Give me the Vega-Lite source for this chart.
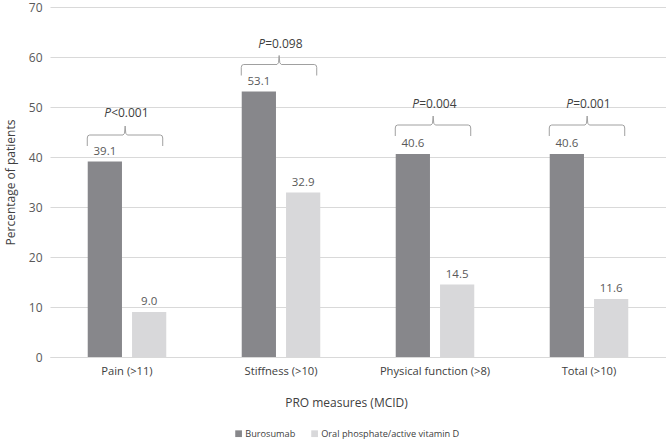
{
  "$schema": "https://vega.github.io/schema/vega-lite/v6.json",
  "width": 616,
  "height": 350,
  "autosize": {"type": "none"},
  "padding": {"left": 50, "top": 7, "right": 0, "bottom": 83},
  "config": {"font": "Open Sans", "view": {"stroke": null}},
  "datasets": {
    "bars": [
      {"measure": "Pain (>11)", "treatment": "Burosumab", "pct": 39.1},
      {"measure": "Pain (>11)", "treatment": "Oral phosphate/active vitamin D", "pct": 9.0},
      {"measure": "Stiffness (>10)", "treatment": "Burosumab", "pct": 53.1},
      {"measure": "Stiffness (>10)", "treatment": "Oral phosphate/active vitamin D", "pct": 32.9},
      {"measure": "Physical function (>8)", "treatment": "Burosumab", "pct": 40.6},
      {"measure": "Physical function (>8)", "treatment": "Oral phosphate/active vitamin D", "pct": 14.5},
      {"measure": "Total (>10)", "treatment": "Burosumab", "pct": 40.6},
      {"measure": "Total (>10)", "treatment": "Oral phosphate/active vitamin D", "pct": 11.6}
    ],
    "brackets": [
      {"measure": "Pain", "k": 1, "bx": 0.242, "by": 42.2},
      {"measure": "Pain", "k": 2, "bx": 0.242, "by": 43.8},
      {"measure": "Pain", "k": 3, "bx": 0.246, "by": 44.25},
      {"measure": "Pain", "k": 4, "bx": 0.258, "by": 44.4},
      {"measure": "Pain", "k": 5, "bx": 0.474, "by": 44.4},
      {"measure": "Pain", "k": 6, "bx": 0.484, "by": 44.75},
      {"measure": "Pain", "k": 7, "bx": 0.488, "by": 46.2},
      {"measure": "Pain", "k": 8, "bx": 0.492, "by": 44.75},
      {"measure": "Pain", "k": 9, "bx": 0.502, "by": 44.4},
      {"measure": "Pain", "k": 10, "bx": 0.716, "by": 44.4},
      {"measure": "Pain", "k": 11, "bx": 0.728, "by": 44.25},
      {"measure": "Pain", "k": 12, "bx": 0.732, "by": 43.8},
      {"measure": "Pain", "k": 13, "bx": 0.732, "by": 42.2},
      {"measure": "Stiffness", "k": 1, "bx": 1.242, "by": 56.3},
      {"measure": "Stiffness", "k": 2, "bx": 1.242, "by": 57.9},
      {"measure": "Stiffness", "k": 3, "bx": 1.246, "by": 58.35},
      {"measure": "Stiffness", "k": 4, "bx": 1.258, "by": 58.5},
      {"measure": "Stiffness", "k": 5, "bx": 1.474, "by": 58.5},
      {"measure": "Stiffness", "k": 6, "bx": 1.484, "by": 58.85},
      {"measure": "Stiffness", "k": 7, "bx": 1.488, "by": 60.3},
      {"measure": "Stiffness", "k": 8, "bx": 1.492, "by": 58.85},
      {"measure": "Stiffness", "k": 9, "bx": 1.502, "by": 58.5},
      {"measure": "Stiffness", "k": 10, "bx": 1.716, "by": 58.5},
      {"measure": "Stiffness", "k": 11, "bx": 1.728, "by": 58.35},
      {"measure": "Stiffness", "k": 12, "bx": 1.732, "by": 57.9},
      {"measure": "Stiffness", "k": 13, "bx": 1.732, "by": 56.3},
      {"measure": "Physical", "k": 1, "bx": 2.242, "by": 44.2},
      {"measure": "Physical", "k": 2, "bx": 2.242, "by": 45.8},
      {"measure": "Physical", "k": 3, "bx": 2.246, "by": 46.25},
      {"measure": "Physical", "k": 4, "bx": 2.258, "by": 46.4},
      {"measure": "Physical", "k": 5, "bx": 2.474, "by": 46.4},
      {"measure": "Physical", "k": 6, "bx": 2.484, "by": 46.75},
      {"measure": "Physical", "k": 7, "bx": 2.488, "by": 48.2},
      {"measure": "Physical", "k": 8, "bx": 2.492, "by": 46.75},
      {"measure": "Physical", "k": 9, "bx": 2.502, "by": 46.4},
      {"measure": "Physical", "k": 10, "bx": 2.716, "by": 46.4},
      {"measure": "Physical", "k": 11, "bx": 2.728, "by": 46.25},
      {"measure": "Physical", "k": 12, "bx": 2.732, "by": 45.8},
      {"measure": "Physical", "k": 13, "bx": 2.732, "by": 44.2},
      {"measure": "Total", "k": 1, "bx": 3.242, "by": 44.2},
      {"measure": "Total", "k": 2, "bx": 3.242, "by": 45.8},
      {"measure": "Total", "k": 3, "bx": 3.246, "by": 46.25},
      {"measure": "Total", "k": 4, "bx": 3.258, "by": 46.4},
      {"measure": "Total", "k": 5, "bx": 3.474, "by": 46.4},
      {"measure": "Total", "k": 6, "bx": 3.484, "by": 46.75},
      {"measure": "Total", "k": 7, "bx": 3.488, "by": 48.2},
      {"measure": "Total", "k": 8, "bx": 3.492, "by": 46.75},
      {"measure": "Total", "k": 9, "bx": 3.502, "by": 46.4},
      {"measure": "Total", "k": 10, "bx": 3.716, "by": 46.4},
      {"measure": "Total", "k": 11, "bx": 3.728, "by": 46.25},
      {"measure": "Total", "k": 12, "bx": 3.732, "by": 45.8},
      {"measure": "Total", "k": 13, "bx": 3.732, "by": 44.2}
    ],
    "pvals": [
      {"measure": "Pain", "px": 0.397, "py": 48.8, "rest": "<0.001"},
      {"measure": "Stiffness", "px": 1.397, "py": 62.7, "rest": "=0.098"},
      {"measure": "Physical", "px": 2.397, "py": 50.7, "rest": "=0.004"},
      {"measure": "Total", "px": 3.397, "py": 50.7, "rest": "=0.001"}
    ]
  },
  "layer": [
    {
      "data": {"name": "bars"},
      "encoding": {
        "x": {
          "field": "measure", "type": "nominal", "sort": null,
          "scale": {"paddingInner": 0.49, "paddingOuter": 0.245},
          "axis": {
            "title": "PRO measures (MCID)", "labelAngle": 0, "labelFontSize": 11.2,
            "labelColor": "#404040", "labelPadding": 8, "ticks": false,
            "domainColor": "#d9d9d9", "titleFontSize": 12, "titleColor": "#404040",
            "titleFontWeight": "normal", "titlePadding": 21, "titleX": 296
          }
        },
        "xOffset": {"field": "treatment", "type": "nominal", "sort": null, "scale": {"paddingInner": 0.227, "paddingOuter": 0}},
        "y": {
          "field": "pct", "type": "quantitative",
          "scale": {"domain": [0, 70], "nice": false},
          "axis": {
            "values": [0, 10, 20, 30, 40, 50, 60, 70], "title": "Percentage of patients",
            "grid": true, "gridColor": "#d9d9d9", "domain": false, "ticks": false,
            "labelPadding": 8, "labelFontSize": 12, "labelColor": "#595959",
            "titleFontSize": 12, "titleColor": "#404040", "titleFontWeight": "normal",
            "titlePadding": 11
          }
        }
      },
      "layer": [
        {
          "mark": {"type": "bar"},
          "encoding": {
            "color": {
              "field": "treatment", "type": "nominal",
              "scale": {"domain": ["Burosumab", "Oral phosphate/active vitamin D"], "range": ["#87878b", "#d8d8da"]},
              "legend": {
                "orient": "none", "legendX": 184, "legendY": 422, "direction": "horizontal",
                "title": null, "symbolType": "square", "symbolSize": 45, "symbolStrokeWidth": 0,
                "labelFontSize": 9.2, "labelColor": "#404040", "columnPadding": 14, "labelOffset": 2
              }
            }
          }
        },
        {
          "mark": {"type": "text", "baseline": "bottom", "dy": -5, "fontSize": 11.5, "color": "#595959"},
          "encoding": {"text": {"field": "pct", "type": "quantitative", "format": ".1f"}}
        }
      ]
    },
    {
      "layer": [
        {
          "data": {"name": "brackets"},
          "mark": {"type": "line", "stroke": "#a0a0a0", "strokeWidth": 1},
          "encoding": {
            "x": {"field": "bx", "type": "quantitative", "scale": {"domain": [0, 4], "nice": false, "zero": false}, "axis": null},
            "y": {"field": "by", "type": "quantitative"},
            "detail": {"field": "measure", "type": "nominal"},
            "order": {"field": "k", "type": "quantitative"}
          }
        },
        {
          "data": {"name": "pvals"},
          "mark": {"type": "text", "align": "right", "baseline": "middle", "fontStyle": "italic", "fontSize": 12, "color": "#404040"},
          "encoding": {
            "x": {"field": "px", "type": "quantitative", "scale": {"domain": [0, 4], "nice": false, "zero": false}, "axis": null},
            "y": {"field": "py", "type": "quantitative"},
            "text": {"value": "P"}
          }
        },
        {
          "data": {"name": "pvals"},
          "mark": {"type": "text", "align": "left", "baseline": "middle", "fontSize": 12, "color": "#404040"},
          "encoding": {
            "x": {"field": "px", "type": "quantitative", "scale": {"domain": [0, 4], "nice": false, "zero": false}, "axis": null},
            "y": {"field": "py", "type": "quantitative"},
            "text": {"field": "rest", "type": "nominal"}
          }
        }
      ]
    }
  ],
  "resolve": {"scale": {"x": "independent"}}
}
